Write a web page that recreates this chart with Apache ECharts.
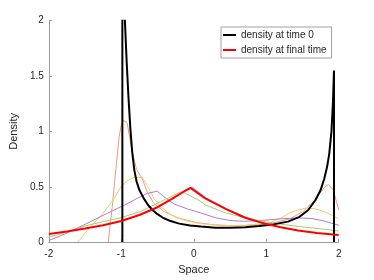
<!DOCTYPE html>
<html>
<head>
<meta charset="utf-8">
<script src="https://cdn.jsdelivr.net/npm/echarts@6/dist/echarts.min.js"></script>
<style>html,body{margin:0;padding:0;background:#fff}#c{width:374px;height:280px}</style>
</head>
<body>
<div id="c"></div>
<script>
// ---- data ----
const xTicks = [-2, -1, 0, 1, 2];
const yTicks = [0, 0.5, 1, 1.5, 2];

const blackX = [-0.985,-0.985,-0.95,-0.925,-0.90,-0.875,-0.85,-0.82,-0.79,-0.75,-0.69,-0.63,-0.57,-0.5,-0.42,-0.32,-0.2,-0.05,0.1,0.3,0.5,0.71,0.9,1.1,1.3,1.45,1.58,1.68,1.75,1.8,1.84,1.87,1.9,1.92,1.935,1.935];
const blackY = [0,3.5,2.0,1.62,1.3,1.03,0.82,0.65,0.55,0.47,0.395,0.335,0.29,0.252,0.218,0.19,0.167,0.15,0.14,0.13,0.13,0.135,0.145,0.16,0.185,0.225,0.29,0.38,0.47,0.57,0.68,0.8,1.0,1.25,1.55,0];

const redX = [-2,-1.75,-1.5,-1.25,-1.0,-0.75,-0.5,-0.3,-0.14,-0.045,0.16,0.44,0.71,0.99,1.2,1.44,1.7,2.0];
const redY = [0.073,0.095,0.122,0.152,0.19,0.245,0.315,0.39,0.455,0.49,0.395,0.30,0.22,0.165,0.135,0.105,0.082,0.064];

const blueX = [-0.3,-0.14,-0.02,0.16,0.44,0.71,1.0];
const blueY = [0.39,0.457,0.497,0.40,0.305,0.225,0.168];

const salX = [-1.18,-1.12,-1.075,-1.03,-1.0,-0.97,-0.953,-0.92,-0.88,-0.84,-0.79,-0.71,-0.64,-0.55,-0.41,-0.23,0.05,0.3,0.5,0.7,0.9,1.055,1.33,1.51,1.65,1.74,1.81,1.857,1.926,2.0];
const salY = [0,0.35,0.658,0.95,1.06,1.10,1.11,1.08,0.93,0.79,0.658,0.57,0.45,0.35,0.277,0.22,0.175,0.155,0.148,0.15,0.158,0.167,0.21,0.277,0.365,0.44,0.50,0.52,0.47,0.29];

const yelX = [-1.6,-1.45,-1.27,-1.1,-1.008,-0.917,-0.825,-0.71,-0.64,-0.55,-0.458,-0.32,-0.14,0.09,0.3,0.5,0.7,0.9,1.055,1.2,1.33,1.45,1.56,1.68,1.79,1.9,2.0];
const yelY = [0,0.12,0.248,0.39,0.497,0.555,0.584,0.584,0.51,0.395,0.32,0.248,0.198,0.167,0.155,0.15,0.152,0.163,0.175,0.22,0.263,0.295,0.307,0.30,0.277,0.245,0.213];

const purX = [-2,-1.78,-1.5,-1.23,-0.953,-0.78,-0.64,-0.503,-0.41,-0.275,-0.09,0.09,0.3,0.5,0.7,0.94,1.2,1.44,1.63,1.8,2.0];
const purY = [0.014,0.073,0.16,0.248,0.336,0.395,0.44,0.46,0.41,0.345,0.30,0.265,0.22,0.195,0.188,0.196,0.21,0.218,0.213,0.19,0.152];

const grnX = [-2,-1.75,-1.5,-1.25,-1.008,-0.733,-0.458,-0.16,-0.11,0.09,0.16,0.44,0.71,0.99,1.25,1.5,1.75,2.0];
const grnY = [0.045,0.09,0.146,0.185,0.22,0.277,0.365,0.459,0.44,0.37,0.336,0.263,0.22,0.184,0.158,0.137,0.12,0.10];

const pairs = (xs, ys) => xs.map((x, i) => [x, ys[i]]);
const FONT = '"Liberation Sans", Arial, Helvetica, sans-serif';

function line(name, xs, ys, color, width, z) {
  return {
    name, type: 'line', data: pairs(xs, ys), showSymbol: false, symbol: 'none',
    clip: true, smooth: false, z: z,
    lineStyle: { color, width }, itemStyle: { color }, emphasis: { disabled: true }
  };
}

const chart = echarts.init(document.getElementById('c'), null, { renderer: 'canvas' });
chart.setOption({
  animation: false,
  backgroundColor: '#fff',
  textStyle: { fontFamily: FONT },
  grid: { left: 48, right: 35.3, top: 20.7, bottom: 31.7, containLabel: false },
  xAxis: {
    type: 'value', min: xTicks[0], max: xTicks[xTicks.length - 1], interval: 1,
    name: 'Space', nameLocation: 'middle', nameGap: 18,
    nameTextStyle: { fontSize: 11, color: '#262626', fontFamily: FONT },
    axisLine: { onZero: false, lineStyle: { color: '#9a9a9a', width: 1 } },
    axisTick: { inside: true, length: 3, lineStyle: { color: '#9a9a9a' } },
    axisLabel: { fontSize: 10, color: '#262626', margin: 7, fontFamily: FONT },
    splitLine: { show: false }
  },
  yAxis: {
    type: 'value', min: yTicks[0], max: yTicks[yTicks.length - 1], interval: 0.5,
    name: 'Density', nameLocation: 'middle', nameGap: 20, nameRotate: 90,
    nameTextStyle: { fontSize: 11, color: '#262626', fontFamily: FONT },
    axisLine: { show: true, onZero: false, lineStyle: { color: '#9a9a9a', width: 1 } },
    axisTick: { show: true, inside: true, length: 3, lineStyle: { color: '#9a9a9a' } },
    axisLabel: { fontSize: 10, color: '#262626', margin: 5, fontFamily: FONT },
    splitLine: { show: false }
  },
  legend: {
    data: ['density at time 0', 'density at final time'],
    orient: 'vertical', left: 221, top: 27,
    padding: [2, 5, 2, 2], itemGap: 3,
    itemWidth: 13, itemHeight: 2, icon: 'rect',
    borderColor: '#a0a0a0', borderWidth: 1, backgroundColor: '#fff',
    selectedMode: false,
    textStyle: { fontSize: 10, color: '#262626', lineHeight: 12, fontFamily: FONT }
  },
  series: [
    line('c1', salX, salY, '#f09a7c', 1, 2),
    line('c2', yelX, yelY, '#f5c86a', 1, 2),
    line('c3', purX, purY, '#b07cc6', 1, 2),
    line('c4', grnX, grnY, '#a3cc6e', 1, 2),
    line('c5', blueX, blueY, '#8fd0ef', 1.5, 2),
    line('density at time 0', blackX, blackY, '#000000', 2, 4),
    line('density at final time', redX, redY, '#ff0000', 2, 5)
  ]
});
</script>
</body>
</html>
